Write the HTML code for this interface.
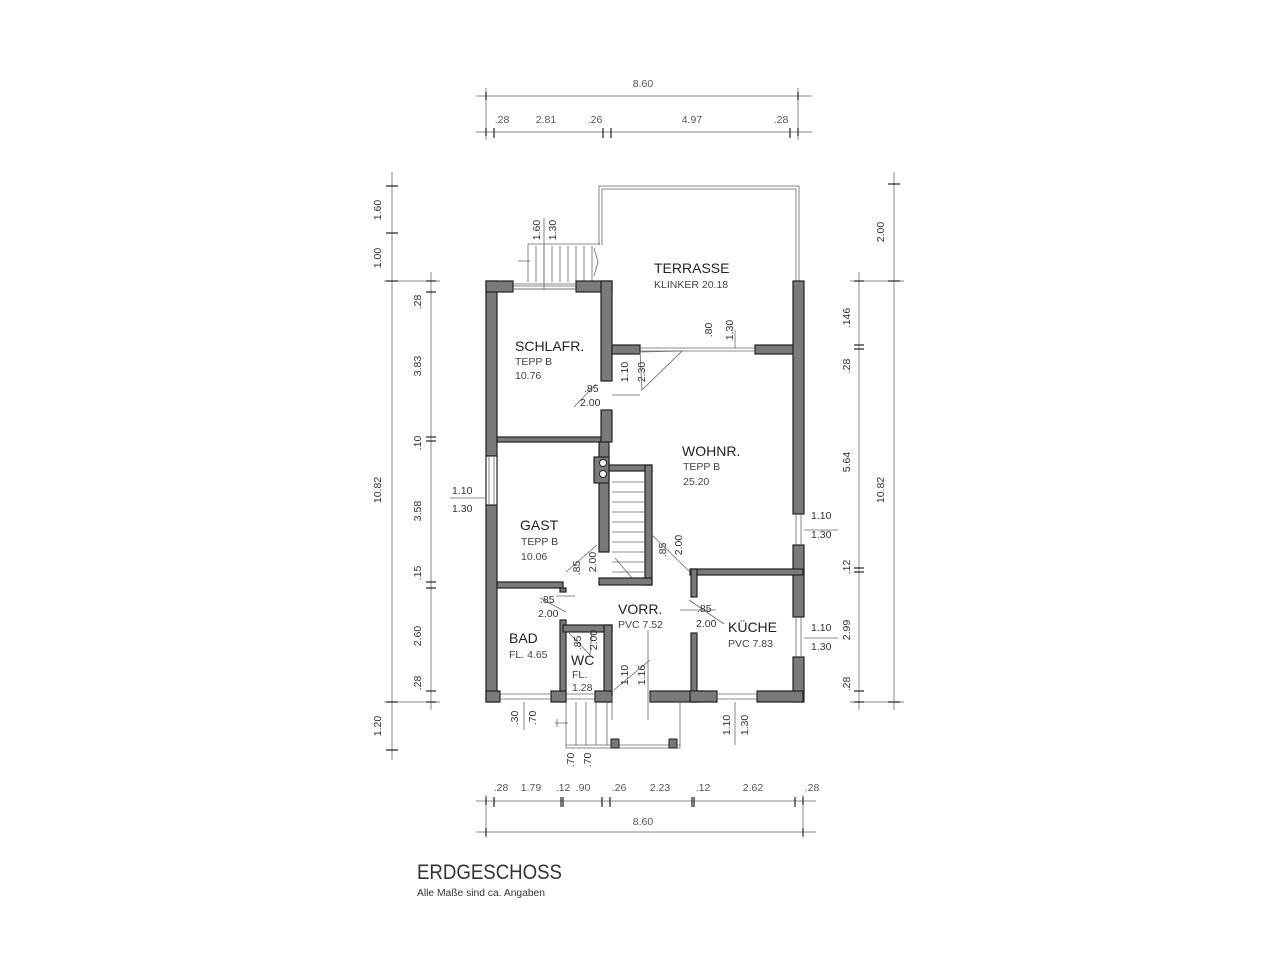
<!DOCTYPE html>
<html><head><meta charset="utf-8"><style>
html,body{margin:0;padding:0;background:#fff;}
svg{display:block;}
text{font-family:"Liberation Sans Narrow","Liberation Sans",sans-serif;fill:#333;}
.d{font-size:10.5px;fill:#555;}
.w{fill:#7a7a7a;stroke:#222;stroke-width:1.2;}
.l{stroke:#888;stroke-width:1;fill:none;}
.t{stroke:#222;stroke-width:1.2;}
.th{stroke:#666;stroke-width:0.8;fill:none;}
.rn{font-size:14px;fill:#222;}
.rs{font-size:10.5px;fill:#444;}
</style></head><body>
<svg width="1280" height="960" viewBox="0 0 1280 960" xmlns="http://www.w3.org/2000/svg">
<rect width="1280" height="960" fill="#fff"/>

<!-- top dimensions -->
<line class="l" x1="476" y1="96" x2="812" y2="96"/>
<line class="l" x1="476" y1="132" x2="812" y2="132"/>
<line class="l" x1="486" y1="88" x2="486" y2="140"/>
<line class="l" x1="798" y1="88" x2="798" y2="140"/>
<g class="t"><line x1="486" y1="92" x2="486" y2="100"/><line x1="798" y1="92" x2="798" y2="100"/>
<line x1="486" y1="128" x2="486" y2="136"/><line x1="494" y1="128" x2="494" y2="138"/><line x1="603" y1="128" x2="603" y2="138"/><line x1="611" y1="128" x2="611" y2="138"/><line x1="790" y1="128" x2="790" y2="138"/><line x1="798" y1="128" x2="798" y2="136"/></g>
<text class="d" x="643" y="87" text-anchor="middle" font-size="12">8.60</text>
<text class="d" x="502" y="123" text-anchor="middle">.28</text>
<text class="d" x="546" y="123" text-anchor="middle">2.81</text>
<text class="d" x="595" y="123" text-anchor="middle">.26</text>
<text class="d" x="692" y="123" text-anchor="middle">4.97</text>
<text class="d" x="781" y="123" text-anchor="middle">.28</text>

<!-- bottom dimensions -->
<line class="l" x1="476" y1="801" x2="816" y2="801"/>
<line class="l" x1="476" y1="832" x2="816" y2="832"/>
<line class="l" x1="486" y1="795" x2="486" y2="838"/>
<line class="l" x1="803" y1="795" x2="803" y2="838"/>
<g class="t"><line x1="486" y1="797" x2="486" y2="805"/><line x1="494" y1="797" x2="494" y2="807"/><line x1="561" y1="797" x2="561" y2="807"/><line x1="563" y1="797" x2="563" y2="807"/><line x1="602" y1="797" x2="602" y2="807"/><line x1="610" y1="797" x2="610" y2="807"/><line x1="692" y1="797" x2="692" y2="807"/><line x1="694" y1="797" x2="694" y2="807"/><line x1="795" y1="797" x2="795" y2="807"/><line x1="803" y1="797" x2="803" y2="805"/>
<line x1="486" y1="828" x2="486" y2="836"/><line x1="803" y1="828" x2="803" y2="836"/></g>
<text class="d" x="501" y="791" text-anchor="middle">.28</text>
<text class="d" x="531" y="791" text-anchor="middle">1.79</text>
<text class="d" x="563" y="791" text-anchor="middle">.12</text>
<text class="d" x="583" y="791" text-anchor="middle">.90</text>
<text class="d" x="619" y="791" text-anchor="middle">.26</text>
<text class="d" x="660" y="791" text-anchor="middle">2.23</text>
<text class="d" x="703" y="791" text-anchor="middle">.12</text>
<text class="d" x="753" y="791" text-anchor="middle">2.62</text>
<text class="d" x="812" y="791" text-anchor="middle">.28</text>
<text class="d" x="643" y="825" text-anchor="middle" font-size="12">8.60</text>

<!-- left dimensions -->
<line class="l" x1="392" y1="172" x2="392" y2="760"/>
<line class="l" x1="431" y1="272" x2="431" y2="710"/>
<line class="l" x1="384" y1="281" x2="440" y2="281"/>
<line class="l" x1="384" y1="702" x2="440" y2="702"/>
<g class="t"><line x1="386" y1="186" x2="398" y2="186"/><line x1="386" y1="233" x2="398" y2="233"/><line x1="386" y1="281" x2="398" y2="281"/><line x1="386" y1="702" x2="398" y2="702"/><line x1="386" y1="750" x2="398" y2="750"/>
<line x1="426" y1="281" x2="436" y2="281"/><line x1="426" y1="292" x2="436" y2="292"/><line x1="426" y1="437" x2="436" y2="437"/><line x1="426" y1="441" x2="436" y2="441"/><line x1="426" y1="582" x2="436" y2="582"/><line x1="426" y1="588" x2="436" y2="588"/><line x1="426" y1="691" x2="436" y2="691"/><line x1="426" y1="702" x2="436" y2="702"/></g>
<g class="d">
<text transform="translate(381,210) rotate(-90)" text-anchor="middle">1.60</text>
<text transform="translate(381,258) rotate(-90)" text-anchor="middle">1.00</text>
<text transform="translate(381,490) rotate(-90)" text-anchor="middle">10.82</text>
<text transform="translate(381,726) rotate(-90)" text-anchor="middle">1.20</text>
<text transform="translate(421,302) rotate(-90)" text-anchor="middle">.28</text>
<text transform="translate(421,366) rotate(-90)" text-anchor="middle">3.83</text>
<text transform="translate(421,443) rotate(-90)" text-anchor="middle">.10</text>
<text transform="translate(421,511) rotate(-90)" text-anchor="middle">3.58</text>
<text transform="translate(421,573) rotate(-90)" text-anchor="middle">.15</text>
<text transform="translate(421,636) rotate(-90)" text-anchor="middle">2.60</text>
<text transform="translate(421,683) rotate(-90)" text-anchor="middle">.28</text>
</g>

<!-- right dimensions -->
<line class="l" x1="894" y1="172" x2="894" y2="710"/>
<line class="l" x1="859" y1="272" x2="859" y2="710"/>
<line class="l" x1="850" y1="281" x2="904" y2="281"/>
<line class="l" x1="850" y1="702" x2="904" y2="702"/>
<g class="t"><line x1="888" y1="184" x2="900" y2="184"/><line x1="888" y1="281" x2="900" y2="281"/><line x1="888" y1="702" x2="900" y2="702"/>
<line x1="854" y1="281" x2="864" y2="281"/><line x1="854" y1="345" x2="864" y2="345"/><line x1="854" y1="349" x2="864" y2="349"/><line x1="854" y1="568" x2="864" y2="568"/><line x1="854" y1="572" x2="864" y2="572"/><line x1="854" y1="691" x2="864" y2="691"/><line x1="854" y1="702" x2="864" y2="702"/></g>
<g class="d">
<text transform="translate(884,232) rotate(-90)" text-anchor="middle">2.00</text>
<text transform="translate(884,490) rotate(-90)" text-anchor="middle">10.82</text>
<text transform="translate(850,318) rotate(-90)" text-anchor="middle">.146</text>
<text transform="translate(850,366) rotate(-90)" text-anchor="middle">.28</text>
<text transform="translate(850,462) rotate(-90)" text-anchor="middle">5.64</text>
<text transform="translate(850,567) rotate(-90)" text-anchor="middle">.12</text>
<text transform="translate(850,630) rotate(-90)" text-anchor="middle">2.99</text>
<text transform="translate(850,684) rotate(-90)" text-anchor="middle">.28</text>
</g>

<!-- terrace outline -->
<path class="th" d="M599,245 V186 H799 V281" stroke="#444" stroke-width="1"/>
<path class="th" d="M602,245 V189 H796 V281" stroke="#444" stroke-width="1"/>
<path class="th" d="M528,244 H600" stroke="#444"/>
<!-- terrace stairs -->
<g class="th">
<line x1="528" y1="244" x2="528" y2="282"/>
<line x1="536" y1="246" x2="536" y2="282"/><line x1="544" y1="246" x2="544" y2="282"/><line x1="552" y1="246" x2="552" y2="282"/><line x1="560" y1="246" x2="560" y2="282"/><line x1="568" y1="246" x2="568" y2="282"/><line x1="576" y1="246" x2="576" y2="282"/><line x1="584" y1="246" x2="584" y2="282"/><line x1="592" y1="246" x2="592" y2="282"/>
<line x1="518" y1="261" x2="530" y2="261"/>
<path d="M594,248 L598,262 L594,276"/>
<line x1="544" y1="218" x2="544" y2="290"/>
<line x1="486" y1="286" x2="612" y2="286"/><line x1="486" y1="289" x2="612" y2="289"/>
</g>
<g class="d" font-size="9.5">
<text transform="translate(540,230) rotate(-90)" text-anchor="middle">1.60</text>
<text transform="translate(556,230) rotate(-90)" text-anchor="middle">1.30</text>
</g>

<!-- walls -->
<g class="w">
<rect x="486" y="281" width="11" height="175"/>
<rect x="486" y="505" width="11" height="197"/>
<rect x="486" y="456" width="11" height="49" fill="#fff"/>
<rect x="486" y="281" width="27" height="11"/>
<rect x="576" y="281" width="36" height="11"/>
<rect x="601" y="281" width="11" height="100"/>
<rect x="601" y="410" width="11" height="32"/>
<rect x="612" y="345" width="28" height="9"/>
<rect x="755" y="345" width="48" height="9"/>
<rect x="793" y="281" width="11" height="233"/>
<rect x="793" y="545" width="11" height="72"/>
<rect x="793" y="657" width="11" height="45"/>
<rect x="497" y="437" width="104" height="5"/>
<rect x="599" y="442" width="10" height="110"/>
<rect x="594" y="457" width="15" height="26"/>
<rect x="609" y="465" width="43" height="6"/>
<rect x="645" y="465" width="7" height="120"/>
<rect x="599" y="578" width="53" height="7"/>
<rect x="497" y="582" width="66" height="6"/>
<rect x="560" y="588" width="6" height="4"/>
<rect x="560" y="620" width="6" height="82"/>
<rect x="563" y="625" width="49" height="7"/>
<rect x="604" y="625" width="8" height="77"/>
<rect x="690" y="569" width="113" height="6"/>
<rect x="691" y="569" width="6" height="28"/>
<rect x="691" y="633" width="6" height="69"/>
<rect x="486" y="691" width="14" height="11"/>
<rect x="551" y="691" width="15" height="11"/>
<rect x="595" y="691" width="17" height="11"/>
<rect x="650" y="691" width="53" height="11"/>
<rect x="690" y="691" width="27" height="11"/>
<rect x="757" y="691" width="46" height="11"/>
</g>
<circle cx="603" cy="463" r="3.5" fill="#fff" stroke="#222"/>
<circle cx="603" cy="474" r="3.5" fill="#fff" stroke="#222"/>

<g class="th">
<line x1="513" y1="284" x2="576" y2="284"/><line x1="513" y1="289" x2="576" y2="289"/>
<line x1="640" y1="348" x2="755" y2="348"/><line x1="640" y1="351" x2="755" y2="351"/>
<line x1="489" y1="456" x2="489" y2="505"/><line x1="494" y1="456" x2="494" y2="505"/>
<line x1="796" y1="514" x2="796" y2="545"/><line x1="801" y1="514" x2="801" y2="545"/>
<line x1="796" y1="617" x2="796" y2="657"/><line x1="801" y1="617" x2="801" y2="657"/>
<line x1="500" y1="694" x2="551" y2="694"/><line x1="500" y1="699" x2="551" y2="699"/>
<line x1="566" y1="694" x2="595" y2="694"/><line x1="566" y1="699" x2="595" y2="699"/>
<line x1="717" y1="694" x2="757" y2="694"/><line x1="717" y1="699" x2="757" y2="699"/>
<line x1="450" y1="498" x2="486" y2="498"/>
<line x1="804" y1="530" x2="838" y2="530"/>
<line x1="804" y1="638" x2="838" y2="638"/>
<line x1="735" y1="348" x2="735" y2="330" />
<path d="M574,407 L596,384 M612,395 L640,395"/>
<path d="M640,352 L642,390 L682,351 Z" fill="none"/>
<path d="M597,545 L566,572"/>
<path d="M652,535 L690,572"/>
<path d="M540,598 L566,612 M556,596 L575,596"/>
<path d="M689,600 L724,624 M680,610 L716,610"/>
<path d="M569,633 L590,655 L592,630"/>
<path d="M614,690 L650,660 M612,696 L612,720"/>
<line x1="648" y1="630" x2="648" y2="720"/>
<path d="M566,702 V748 H680 V702"/>
<line x1="566" y1="745" x2="680" y2="745"/>
<line x1="576" y1="702" x2="576" y2="745"/><line x1="586" y1="702" x2="586" y2="745"/><line x1="596" y1="702" x2="596" y2="745"/>
<line x1="607" y1="702" x2="607" y2="745"/>
<path d="M555,723 H568 M557,719 V727"/>
<line x1="524" y1="702" x2="524" y2="730"/>
<line x1="735" y1="702" x2="735" y2="745"/>
<line x1="612" y1="482" x2="645" y2="482"/><line x1="612" y1="492" x2="645" y2="492"/><line x1="612" y1="502" x2="645" y2="502"/><line x1="612" y1="512" x2="645" y2="512"/><line x1="612" y1="522" x2="645" y2="522"/><line x1="612" y1="532" x2="645" y2="532"/><line x1="612" y1="542" x2="645" y2="542"/><line x1="612" y1="552" x2="645" y2="552"/><line x1="612" y1="562" x2="645" y2="562"/><line x1="612" y1="572" x2="645" y2="572"/>
<path d="M615,558 L632,578"/>
</g>
<rect x="611" y="739" width="8" height="9" fill="#777" stroke="#222"/>
<rect x="669" y="739" width="8" height="9" fill="#777" stroke="#222"/>

<g class="d" font-size="10">
<text x="452" y="494">1.10</text><text x="452" y="512">1.30</text>
<text x="811" y="519">1.10</text><text x="811" y="538">1.30</text>
<text x="811" y="631">1.10</text><text x="811" y="650">1.30</text>
<text x="584" y="392">.85</text><text x="580" y="406">2.00</text>
<text x="540" y="603">.85</text><text x="538" y="617">2.00</text>
<text x="697" y="612">.85</text><text x="696" y="627">2.00</text>
<text transform="translate(712,330) rotate(-90)" text-anchor="middle">.80</text>
<text transform="translate(733,330) rotate(-90)" text-anchor="middle">1.30</text>
<text transform="translate(628,372) rotate(-90)" text-anchor="middle">1.10</text>
<text transform="translate(645,372) rotate(-90)" text-anchor="middle">2.30</text>
<text transform="translate(580,568) rotate(-90)" text-anchor="middle">.85</text>
<text transform="translate(596,562) rotate(-90)" text-anchor="middle">2.00</text>
<text transform="translate(666,550) rotate(-90)" text-anchor="middle">.85</text>
<text transform="translate(682,545) rotate(-90)" text-anchor="middle">2.00</text>
<text transform="translate(581,643) rotate(-90)" text-anchor="middle">.85</text>
<text transform="translate(597,640) rotate(-90)" text-anchor="middle">2.00</text>
<text transform="translate(628,675) rotate(-90)" text-anchor="middle">1.10</text>
<text transform="translate(645,675) rotate(-90)" text-anchor="middle">1.16</text>
<text transform="translate(518,718) rotate(-90)" text-anchor="middle">.30</text>
<text transform="translate(536,718) rotate(-90)" text-anchor="middle">.70</text>
<text transform="translate(730,725) rotate(-90)" text-anchor="middle">1.10</text>
<text transform="translate(748,725) rotate(-90)" text-anchor="middle">1.30</text>
<text transform="translate(574,760) rotate(-90)" text-anchor="middle">.70</text>
<text transform="translate(591,760) rotate(-90)" text-anchor="middle">.70</text>
</g>

<text class="rn" x="654" y="273">TERRASSE</text>
<text class="rs" x="654" y="288">KLINKER  20.18</text>
<text class="rn" x="515" y="351">SCHLAFR.</text>
<text class="rs" x="515" y="365">TEPP B</text>
<text class="rs" x="515" y="379">10.76</text>
<text class="rn" x="682" y="456">WOHNR.</text>
<text class="rs" x="683" y="470">TEPP B</text>
<text class="rs" x="683" y="485">25.20</text>
<text class="rn" x="520" y="530">GAST</text>
<text class="rs" x="521" y="545">TEPP B</text>
<text class="rs" x="521" y="560">10.06</text>
<text class="rn" x="618" y="614">VORR.</text>
<text class="rs" x="618" y="628">PVC  7.52</text>
<text class="rn" x="728" y="632">KÜCHE</text>
<text class="rs" x="728" y="647">PVC 7.83</text>
<text class="rn" x="509" y="643">BAD</text>
<text class="rs" x="509" y="658">FL. 4.65</text>
<text class="rn" x="571" y="665">WC</text>
<text class="rs" x="572" y="678">FL.</text>
<text class="rs" x="572" y="691">1.28</text>

<text x="417" y="879" font-size="21" fill="#222" textLength="145" lengthAdjust="spacingAndGlyphs">ERDGESCHOSS</text>
<text x="417" y="896" font-size="10" fill="#444" textLength="128" lengthAdjust="spacingAndGlyphs">Alle Maße sind ca. Angaben</text>
</svg>
</body></html>
